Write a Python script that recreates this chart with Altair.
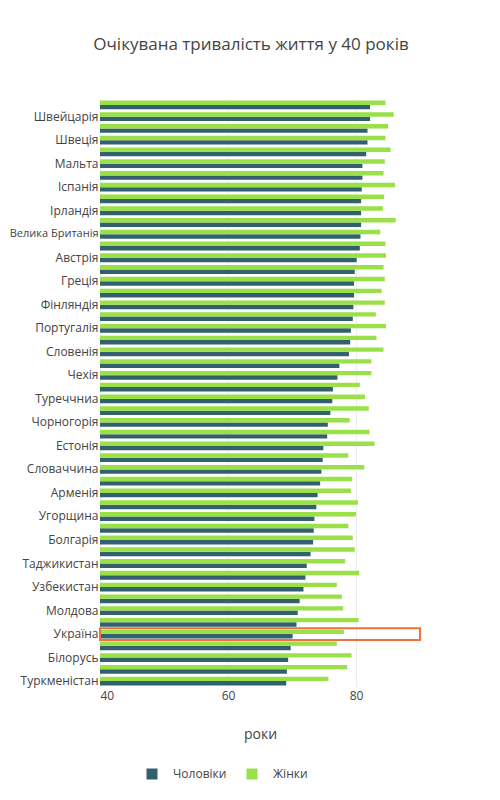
import altair as alt
import pandas as pd

countries = [
    "Ісландія", "Швейцарія", "Італія", "Швеція", "Ізраїль", "Мальта",
    "Нідерланди", "Іспанія", "Норвегія", "Ірландія", "Франція", "Велика Британія",
    "Люксембург", "Австрія", "Кіпр", "Греція", "Бельгія", "Фінляндія",
    "Данія", "Португалія", "Німеччина", "Словенія", "Албанія", "Чехія",
    "Боснія і Герцеговина", "Туреччниа", "Хорватія", "Чорногорія", "Польща", "Естонія",
    "Македонія", "Словаччина", "Сербія", "Арменія", "Грузія", "Угорщина",
    "Румунія", "Болгарія", "Азербайджан", "Таджикистан", "Латвія", "Узбекистан",
    "Киргизстан", "Молдова", "Литва", "Україна", "Казахстан", "Білорусь",
    "Росія", "Туркменістан",
]
men = [
    82.2, 82.2, 81.8, 81.8, 81.6, 81.0,
    81.0, 80.9, 80.8, 80.8, 80.8, 80.7,
    80.6, 80.1, 79.8, 79.7, 79.7, 79.6,
    79.5, 79.2, 79.1, 78.9, 77.4, 77.1,
    76.4, 76.3, 76.0, 75.6, 75.5, 74.9,
    74.8, 74.6, 74.4, 74.0, 73.8, 73.5,
    73.4, 73.3, 72.9, 72.3, 72.1, 71.8,
    71.2, 70.9, 70.7, 70.1, 69.8, 69.4,
    69.2, 69.1,
]
women = [
    84.6, 85.9, 85.0, 84.6, 85.4, 84.5,
    84.3, 86.1, 84.4, 84.2, 86.2, 83.8,
    84.6, 84.7, 84.3, 84.5, 84.0, 84.5,
    83.1, 84.7, 83.2, 84.3, 82.4, 82.4,
    80.6, 81.4, 82.0, 79.0, 82.1, 82.9,
    78.8, 81.3, 79.4, 79.2, 80.3, 80.0,
    78.8, 79.5, 79.8, 78.3, 80.5, 77.0,
    77.8, 78.0, 80.4, 78.1, 77.0, 79.3,
    78.6, 75.7,
]
shown = countries[1::2]
sexes = ["Чоловіки", "Жінки"]
colors = ["#33606e", "#99e049"]
highlight = "Україна"
x_domain = [40, 90]
x_ticks = [40, 60, 80]

rows = []
for c, m, w in zip(countries, men, women):
    rows.append({"country": c, "sex": sexes[0], "value": m})
    rows.append({"country": c, "sex": sexes[1], "value": w})
df = pd.DataFrame(rows)
hl = pd.DataFrame([{"country": highlight, "lo": x_domain[0], "hi": x_domain[1]}])

font = "Open Sans"
txt = "#444444"

y_enc = alt.Y(
    "country:N",
    sort=countries,
    scale=alt.Scale(paddingInner=0, paddingOuter=0),
    axis=alt.Axis(
        values=shown, title=None, ticks=False, tickSize=0, domain=False,
        labelPadding=2, labelColor=txt, labelFont=font, grid=False,
        labelLimit=200,
        labelFontSize={"condition": {"test": "length(datum.label) > 12", "value": 11}, "value": 12},
    ),
)

bars = alt.Chart(df).mark_bar().encode(
    x=alt.X(
        "value:Q",
        scale=alt.Scale(domain=x_domain, zero=False, nice=False),
        axis=alt.Axis(
            values=x_ticks, title="роки", ticks=False, tickSize=0, domain=False,
            labelPadding=3, labelFontSize=12, labelColor=txt, labelFont=font,
            grid=True, gridColor="#eeeeee", gridWidth=1,
            titleFont=font, titleFontSize=14, titleFontWeight="normal",
            titleColor=txt, titlePadding=26,
        ),
    ),
    x2=alt.datum(x_domain[0]),
    y=y_enc,
    yOffset=alt.YOffset(
        "sex:N", sort=["Жінки", "Чоловіки"],
        scale=alt.Scale(paddingInner=0, paddingOuter=0.333),
    ),
    color=alt.Color(
        "sex:N",
        scale=alt.Scale(domain=sexes, range=colors),
        legend=alt.Legend(
            title=None, orient="none", direction="horizontal",
            legendX=46, legendY=669, symbolType="square", symbolSize=121,
            symbolStrokeWidth=0, labelOffset=15, columnPadding=19,
            labelFont=font, labelFontSize=12, labelColor=txt, padding=0,
        ),
    ),
)

box = alt.Chart(hl).mark_rect(filled=False, stroke="#f07040", strokeWidth=2).encode(
    x="lo:Q",
    x2="hi:Q",
    y=y_enc,
)

chart = (
    alt.layer(bars, box)
    .properties(
        width=320,
        height=588,
        title=alt.TitleParams(
            "Очікувана тривалість життя у 40 років",
            font=font, fontSize=17, fontWeight="normal", color=txt,
            anchor="middle", dx=-9, offset=45,
        ),
        autosize=alt.AutoSizeParams(type="none"),
        padding={"left": 92, "top": 91, "right": 64, "bottom": 100},
    )
    .configure_view(strokeWidth=0)
)

chart.save("out.html", embed_options={"renderer": "svg", "actions": False})
